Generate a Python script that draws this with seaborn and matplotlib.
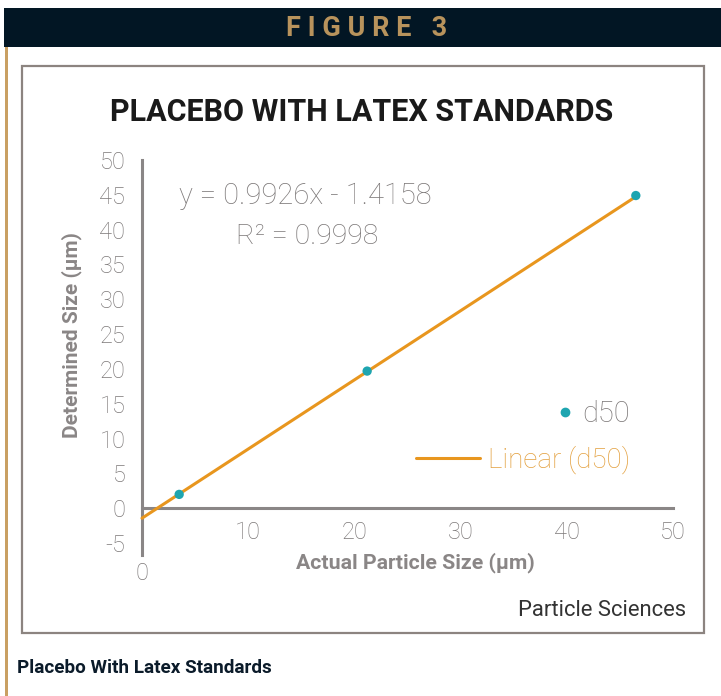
import matplotlib
matplotlib.use("Agg")
import matplotlib.pyplot as plt
import seaborn as sns
import pandas as pd
from matplotlib.patches import Rectangle
from matplotlib.lines import Line2D

# ---- data -------------------------------------------------------------
actual_size = [3.5, 21.2, 46.5]          # Actual Particle Size (µm)
determined_size = [2.0, 19.7, 44.9]      # Determined Size (µm), d50
slope = 0.9926
intercept = -1.4158
r_squared = 0.9998
x_ticks = [0, 10, 20, 30, 40, 50]
y_ticks = [-5, 0, 5, 10, 15, 20, 25, 30, 35, 40, 45, 50]

header_text = "FIGURE 3"
title_text = "PLACEBO WITH LATEX STANDARDS"
caption_text = "Placebo With Latex Standards"
source_text = "Particle Sciences"

# ---- style ------------------------------------------------------------
sns.set_style("white")
NARROW = ["Roboto", "Liberation Sans", "DejaVu Sans"]
LIGHT = ["Roboto", "Lato", "DejaVu Sans"]
plt.rcParams["font.family"] = LIGHT

GREY = "#8a8686"
TICK_GREY = "#7c7878"
TEAL = "#1ea5b0"
ORANGE = "#e8961e"
NAVY = "#021624"
TAN = "#b8935c"

W, H = 721, 696
fig = plt.figure(figsize=(W / 100, H / 100), dpi=100)
fig.patch.set_facecolor("white")


def fx(x):
    return x / W


def fy(y):
    return 1 - y / H


# header band, side rule and chart frame (kept beneath the axes)
fig.add_artist(Rectangle((fx(4), fy(47)), fx(717), 39 / H, transform=fig.transFigure,
                         facecolor=NAVY, edgecolor="none", zorder=-2))
fig.add_artist(Rectangle((fx(5), 0), fx(2.5), fy(47), transform=fig.transFigure,
                         facecolor="#c9a063", edgecolor="none", zorder=-2))
fig.add_artist(Rectangle((fx(22), fy(633)), fx(682), 567 / H, transform=fig.transFigure,
                         facecolor="none", edgecolor="#8c8480", linewidth=1.6, zorder=-2))

fig.text(fx(367), fy(29), " ".join(header_text), ha="center", va="center",
         color=TAN, fontsize=19.5, fontweight="bold", family=NARROW)
fig.text(fx(17), fy(668), caption_text, ha="left", va="center",
         color="#0b1b2a", fontsize=13.6, fontweight="bold", family=NARROW)
fig.text(fx(686), fy(610), source_text, ha="right", va="center",
         color="#333333", fontsize=15.8, family=NARROW)

# ---- plot -------------------------------------------------------------
ax = fig.add_axes([fx(142), (H - 555) / H, 531 / W, 395 / H])
ax.set_facecolor("none")

df_pts = pd.DataFrame({"actual": actual_size, "determined": determined_size})
fit_x = [0, max(actual_size)]
df_fit = pd.DataFrame({"actual": fit_x,
                       "determined": [slope * v + intercept for v in fit_x]})

sns.lineplot(data=df_fit, x="actual", y="determined", ax=ax, color=ORANGE,
             linewidth=2.2, zorder=3, clip_on=False)
sns.scatterplot(data=df_pts, x="actual", y="determined", ax=ax, color=TEAL,
                marker="o", s=45, edgecolor="none", zorder=4, clip_on=False)

ax.set_xlim(0, 50)
ax.set_ylim(-6.7, 50)
ax.set_xticks(x_ticks)
ax.set_yticks(y_ticks)
ax.set_xticklabels([str(v) for v in x_ticks])
ax.set_yticklabels([str(v) for v in y_ticks])

for side in ("top", "right"):
    ax.spines[side].set_visible(False)
ax.spines["bottom"].set_position(("data", 0))
ax.spines["bottom"].set_bounds(0, 50)
for side in ("left", "bottom"):
    ax.spines[side].set_color(GREY)
    ax.spines[side].set_linewidth(2.2)

ax.tick_params(axis="y", direction="out", length=8, width=1.3, color=GREY,
               pad=4, labelsize=17, labelcolor=TICK_GREY)
ax.tick_params(axis="x", direction="out", length=6, width=2.2, color=GREY,
               pad=3, labelsize=17, labelcolor=TICK_GREY)
for lab in ax.get_xticklabels() + ax.get_yticklabels():
    lab.set_fontweight("light")

zero_tick = ax.xaxis.get_major_ticks()[0]
zero_tick.set_pad(33)
zero_tick.tick1line.set_visible(False)

ax.set_xlabel("Actual Particle Size (µm)", family=NARROW, fontweight="bold",
              fontsize=15.3, color=GREY, va="center")
ax.xaxis.set_label_coords((415 - 142) / 531, (555 - 563) / 395)
ax.set_ylabel("Determined Size (µm)", family=NARROW, fontweight="bold",
              fontsize=15, color=GREY, va="center")
ax.yaxis.set_label_coords((72 - 142) / 531, (555 - 335) / 395)

ax.set_title(title_text, family=NARROW, fontweight="bold", fontsize=22,
             color="#1a1a1a", pad=0, va="center", y=(555 - 112) / 395)
ax.title.set_x((362 - 142) / 531)

ax.text((305 - 142) / 531, (555 - 196) / 395, f"y = {slope}x - {abs(intercept)}",
        transform=ax.transAxes, ha="center", va="center", fontsize=21,
        fontweight="light", color=TICK_GREY)
ax.text((307 - 142) / 531, (555 - 236) / 395, f"R² = {r_squared}",
        transform=ax.transAxes, ha="center", va="center", fontsize=20.5,
        fontweight="light", color=TICK_GREY)

# legend: two right-aligned single-entry legends
pt_handle = Line2D([], [], color=TEAL, marker="o", linestyle="none", markersize=6)
fit_handle = Line2D([], [], color=ORANGE, linewidth=2.2)
leg1 = ax.legend([pt_handle], ["d50"], loc="center right",
                 bbox_to_anchor=((630 - 142) / 531, (555 - 414) / 395),
                 frameon=False, borderpad=0, borderaxespad=0, handlelength=0.6,
                 handletextpad=0.3, prop={"size": 21, "weight": "light"},
                 labelcolor=TICK_GREY)
ax.add_artist(leg1)
ax.legend([fit_handle], ["Linear (d50)"], loc="center right",
          bbox_to_anchor=((630 - 142) / 531, (555 - 460) / 395),
          frameon=False, borderpad=0, borderaxespad=0, handlelength=2.3,
          handletextpad=0.3, prop={"size": 20, "weight": "light"},
          labelcolor="#e3a03e")

fig.savefig("out.png", dpi=100, facecolor="white")
